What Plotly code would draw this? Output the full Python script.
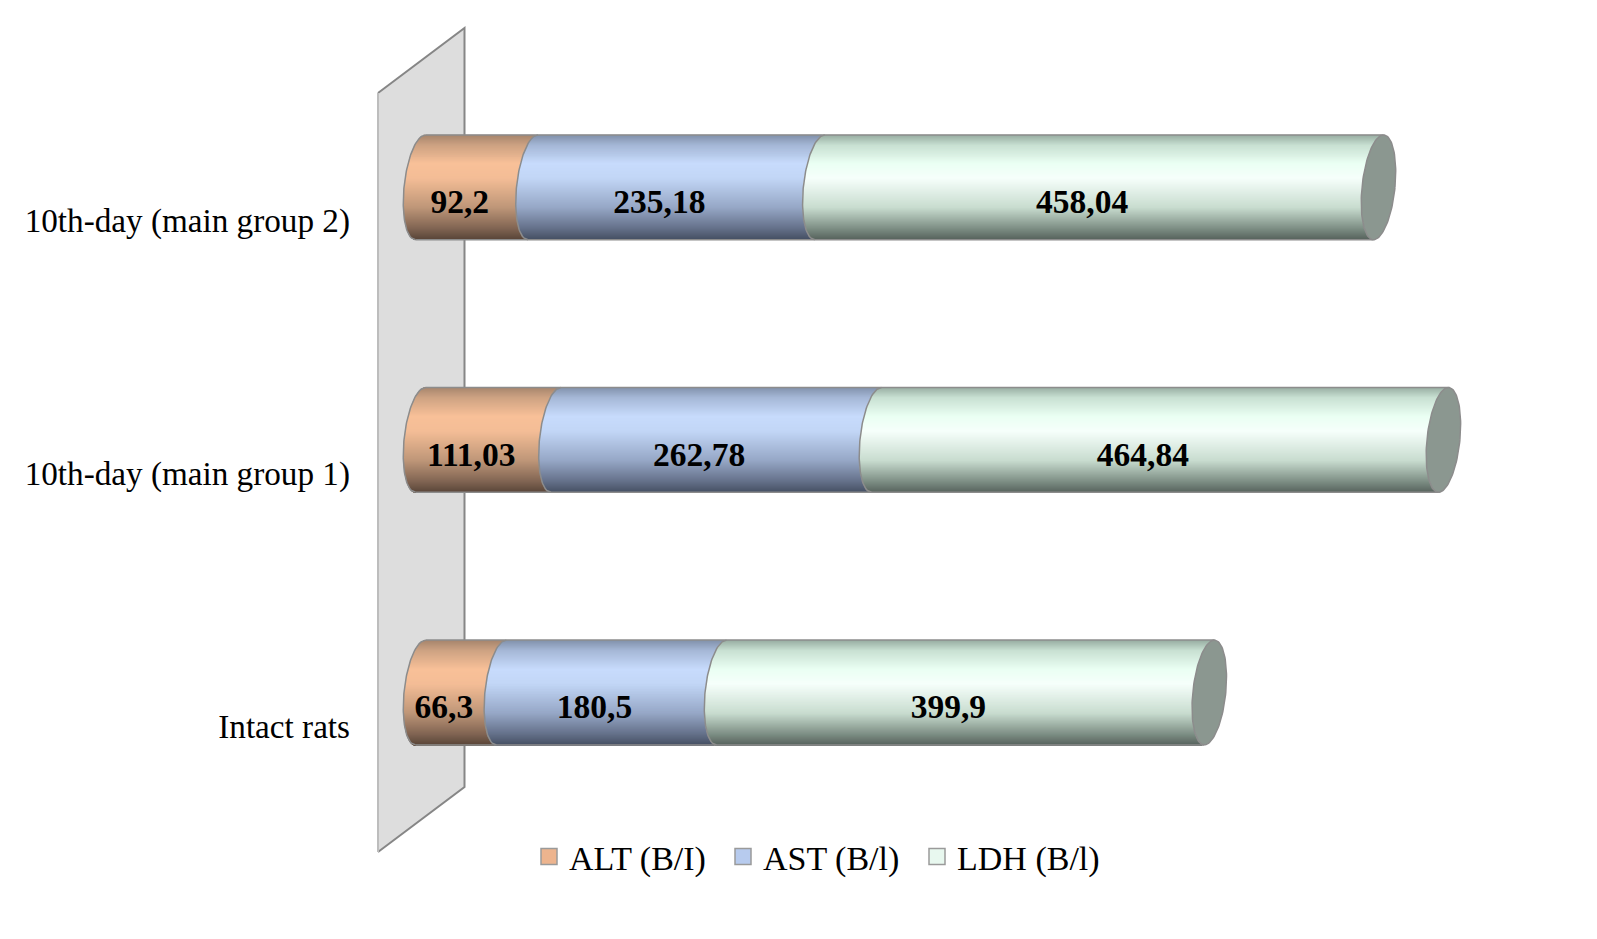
import numpy as np
import plotly.graph_objects as go

groups = ["Intact rats", "10th-day (main group 1)", "10th-day (main group 2)"]
alt = [66.3, 111.03, 92.2]
ast = [180.5, 262.78, 235.18]
ldh = [399.9, 464.84, 458.04]
alt_labels = ["66,3", "111,03", "92,2"]
ast_labels = ["180,5", "262,78", "235,18"]
ldh_labels = ["399,9", "464,84", "458,04"]
series_names = ["ALT (B/I)", "AST (B/l)", "LDH (B/l)"]
legend_colors = ["#EDB48E", "#B7CBEE", "#E8F8EF"]

# vertical shading of the cylinders, 0 = top edge, 1 = bottom edge
grad_pos = [0, 0.1, 0.28, 0.42, 0.7, 0.9, 1]
grad_alt = [(165, 132, 108), (205, 162, 130), (248, 192, 152), (244, 189, 150), (190, 150, 120), (128, 100, 82), (90, 70, 57)]
grad_ast = [(128, 144, 170), (165, 183, 214), (199, 219, 252), (194, 214, 246), (150, 167, 198), (100, 112, 137), (70, 80, 100)]
grad_ldh = [(150, 172, 160), (200, 224, 210), (234, 255, 243), (246, 255, 251), (200, 220, 207), (125, 142, 132), (88, 100, 94)]
cap_color = "#8B9790"
edge_color = "#8C8C8C"

PX_PER_UNIT = 1.2197
PX_PER_GROUP = 252.6
ZERO_X = 420.5
GROUP0_Y = 726
PLOT_LEFT = 351
W, H = 1597, 939

x_range = [(PLOT_LEFT - ZERO_X) / PX_PER_UNIT, (W - ZERO_X) / PX_PER_UNIT]
y_range = [(GROUP0_Y - H) / PX_PER_GROUP, GROUP0_Y / PX_PER_GROUP]

# cylinder shape, in axis units
lift = 33.5 / PX_PER_GROUP
half_h = 52.4 / PX_PER_GROUP
rx = 16.5 / PX_PER_UNIT
shear = 5 / PX_PER_UNIT
label_lift = 16 / PX_PER_GROUP
label_shift = 17 / PX_PER_UNIT

ys = np.arange(len(groups))
values = [np.array(alt), np.array(ast), np.array(ldh)]
starts = [np.zeros(3), np.array(alt), np.array(alt) + np.array(ast)]
ends = [s + v for s, v in zip(starts, values)]
grads = [grad_alt, grad_ast, grad_ldh]


def band_color(grad, t):
    r, g, b = [np.interp(t, grad_pos, [c[i] for c in grad]) for i in range(3)]
    return f"rgb({r:.0f},{g:.0f},{b:.0f})"


def arc(t):
    return shear * t - rx * np.sqrt(np.clip(1 - t * t, 0, 1))


fig = go.Figure()

n_bands = 105
band = 2 * half_h / n_bands
for val, st, grad in zip(values, starts, grads):
    for k in range(n_bands):
        t_mid = 1 - (k + 0.5) * 2 / n_bands
        fig.add_trace(go.Bar(
            x=val, y=ys, base=st + arc(t_mid), orientation="h",
            offset=lift + half_h * t_mid - band * 0.65, width=band * 1.3,
            marker=dict(color=band_color(grad, 1 - (t_mid + 1) / 2), line_width=0),
            showlegend=False, hoverinfo="skip",
        ))

# end caps and outlines
tt = np.linspace(0, 2 * np.pi, 121)
for i, y in enumerate(ys):
    fig.add_trace(go.Scatter(
        x=ends[2][i] + shear * np.sin(tt) + rx * np.cos(tt),
        y=y + lift + half_h * np.sin(tt),
        mode="lines", fill="toself", fillcolor=cap_color,
        line=dict(color=edge_color, width=1.5), showlegend=False, hoverinfo="skip",
    ))

    tl = np.linspace(-1, 1, 61)
    for pos in [starts[0][i], starts[1][i], starts[2][i]]:
        fig.add_trace(go.Scatter(
            x=pos + arc(tl), y=y + lift + half_h * tl, mode="lines",
            line=dict(color=edge_color, width=1.5), showlegend=False, hoverinfo="skip",
        ))
    for t in [1, -1]:
        fig.add_trace(go.Scatter(
            x=[starts[0][i] + shear * t, ends[2][i] + shear * t],
            y=[y + lift + half_h * t] * 2, mode="lines",
            line=dict(color=edge_color, width=1.5), showlegend=False, hoverinfo="skip",
        ))

# value labels
for st, val, labels in zip(starts, values, [alt_labels, ast_labels, ldh_labels]):
    fig.add_trace(go.Scatter(
        x=st + val / 2 - label_shift, y=ys + label_lift, mode="text", text=labels,
        textposition="middle center",
        textfont=dict(family="Liberation Serif", size=33.5, color="black", weight="bold"),
        showlegend=False, hoverinfo="skip",
    ))

# legend entries only
for name, col in zip(series_names, legend_colors):
    fig.add_trace(go.Scatter(
        x=[None], y=[None], mode="markers", name=name,
        marker=dict(symbol="square", size=16, color=col, line=dict(color="#9A9A9A", width=1.5)),
    ))

# grey back plane
px = lambda v: (v - ZERO_X) / PX_PER_UNIT
py = lambda v: (GROUP0_Y - v) / PX_PER_GROUP
pl, pr = px(378), px(464.5)
fig.add_shape(type="path", layer="below", xref="x", yref="y", line_width=0, fillcolor="#DDDDDD",
              path=f"M {pl} {py(852)} L {pl} {py(93)} L {pr} {py(28)} L {pr} {py(787)} Z")
fig.add_shape(type="path", layer="below", xref="x", yref="y", line=dict(color="#868686", width=2),
              path=f"M {pl} {py(93)} L {pr} {py(28)} L {pr} {py(787)} L {pl} {py(852)}")
fig.add_shape(type="line", layer="below", xref="x", yref="y", line=dict(color="#BDBDBD", width=2),
              x0=pl, x1=pl, y0=py(852), y1=py(93))

fig.update_layout(
    width=W, height=H, barmode="overlay", plot_bgcolor="white", paper_bgcolor="white",
    margin=dict(l=PLOT_LEFT, r=0, t=0, b=0),
    font=dict(family="Liberation Serif", size=33, color="black"),
    xaxis=dict(range=x_range, visible=False, fixedrange=True),
    yaxis=dict(range=y_range, tickvals=list(ys), ticktext=groups, showgrid=False, zeroline=False,
               showline=False, ticks="", fixedrange=True,
               tickfont=dict(family="Liberation Serif", size=33.2, color="black")),
    legend=dict(orientation="h", x=(529 - PLOT_LEFT) / (W - PLOT_LEFT), xanchor="left",
                y=1 - 857 / H, yanchor="middle", itemwidth=30, entrywidth=149,
                bgcolor="rgba(0,0,0,0)", font=dict(family="Liberation Serif", size=34, color="black")),
)

fig.write_html("out.html", config={"displayModeBar": False},
               post_script="document.body.style.margin='0';document.body.style.overflow='hidden';")
